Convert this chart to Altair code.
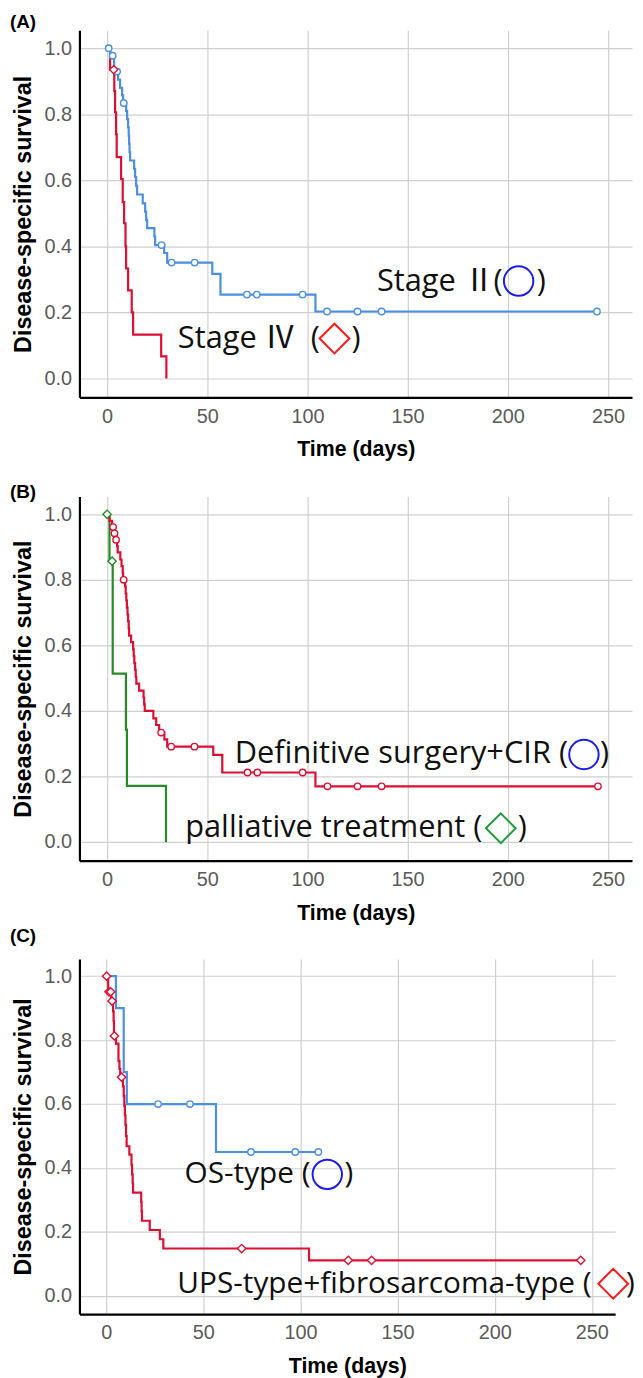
import altair as alt
import pandas as pd

# ---------------- data ----------------
# Panel A: Stage II (blue) / Stage IV (red)
A_blue_t = [0, 1.5, 3.5, 5.5, 6.5, 7.5, 8, 9.5, 10, 10.5, 10.8, 11, 11.2, 11.5, 13.5, 14, 14.5, 15,
            17.8, 19, 19.5, 20, 23.6, 24, 28.5, 30, 52.5, 56.6, 104, 244.5]
A_blue_s = [1.0, 0.977, 0.929, 0.905, 0.88, 0.857, 0.834, 0.81, 0.785, 0.76, 0.735, 0.71, 0.685, 0.66,
            0.635, 0.61, 0.583, 0.557, 0.53, 0.505, 0.48, 0.455, 0.43, 0.404, 0.38, 0.351, 0.317,
            0.254, 0.203, 0.203]
A_blue_ct = [0.8, 2.8, 5, 8.3, 27.2, 32.2, 43.7, 69.8, 74.7, 97.6, 109.8, 125, 137, 244.5]
A_blue_cs = [1.0, 0.977, 0.929, 0.834, 0.404, 0.351, 0.351, 0.254, 0.254, 0.254, 0.203, 0.203,
             0.203, 0.203]
A_red_t = [0, 1.5, 3.6, 4, 4.5, 4.8, 7, 7.8, 8.5, 9.2, 9.5, 10.5, 12.3, 13, 27, 29.6]
A_red_s = [1.0, 0.935, 0.87, 0.806, 0.74, 0.67, 0.604, 0.534, 0.47, 0.40, 0.333, 0.267, 0.2, 0.133,
           0.067, 0.0]
A_red_ct = [3.3]
A_red_cs = [0.935]

# Panel B: definitive surgery+CIR (red) / palliative treatment (green)
B_red_t = [0, 1.2, 2.5, 3.4, 4, 5, 5.3, 6.6, 7.2, 7.8, 8, 9, 9.3, 9.6, 9.9, 10.2, 10.5, 10.8, 11, 12,
           13, 13.3, 13.6, 14, 14.3, 14.6, 16, 18.2, 18.5, 18.8, 23.1, 24.5, 26, 28.6, 30, 53, 57.5,
           104, 245]
B_red_s = [1.0, 0.98, 0.961, 0.942, 0.922, 0.903, 0.884, 0.862, 0.842, 0.821, 0.8, 0.78, 0.758,
           0.737, 0.715, 0.694, 0.673, 0.652, 0.63, 0.61, 0.588, 0.567, 0.546, 0.525, 0.504, 0.483,
           0.462, 0.441, 0.42, 0.40, 0.377, 0.357, 0.334, 0.313, 0.291, 0.266, 0.212, 0.17, 0.17]
B_red_ct = [3, 3.7, 4.5, 8.3, 27, 32, 43.6, 70.1, 75, 97.6, 110, 125, 137, 245]
B_red_cs = [0.961, 0.942, 0.922, 0.8, 0.334, 0.291, 0.291, 0.212, 0.212, 0.212, 0.17, 0.17, 0.17, 0.17]
B_green_t = [0, 1.2, 2.8, 9.4, 9.9, 29.4]
B_green_s = [1.0, 0.857, 0.514, 0.343, 0.171, 0.0]
B_green_ct = [0, 2.5]
B_green_cs = [1.0, 0.857]

# Panel C: OS-type (blue) / UPS-type+fibrosarcoma-type (red)
C_blue_t = [0, 5, 9, 10.6, 56.5, 109.2]
C_blue_s = [1.0, 0.9, 0.7, 0.6, 0.45, 0.45]
C_blue_ct = [26.7, 43.1, 74.5, 97.3, 109.2]
C_blue_cs = [0.6, 0.6, 0.45, 0.45, 0.45]
C_red_t = [0, 1, 2.6, 3.5, 3.8, 4, 5, 6.3, 6.8, 7.2, 8.6, 9, 9.3, 9.6, 9.9, 10.2, 10.5, 11.9, 13,
           13.3, 13.6, 13.8, 18, 18.2, 18.4, 22.4, 27.6, 29.4, 104.4, 244.3]
C_red_s = [1.0, 0.951, 0.922, 0.89, 0.86, 0.813, 0.789, 0.735, 0.71, 0.684, 0.655, 0.625, 0.595,
           0.565, 0.535, 0.5, 0.468, 0.442, 0.41, 0.38, 0.352, 0.323, 0.294, 0.264, 0.235, 0.206,
           0.177, 0.148, 0.111, 0.111]
C_red_ct = [0.2, 1.4, 2.3, 3.0, 4.2, 7.9, 69.7, 124.6, 136.6, 244.3]
C_red_cs = [1.0, 0.951, 0.951, 0.922, 0.813, 0.684, 0.148, 0.111, 0.111, 0.111]

# annotation texts (label, x in days, y in survival)
A_texts = [("Stage Ⅱ", 134.7, 0.293), ("(", 192.9, 0.293), (")", 214.5, 0.293),
           ("Stage Ⅳ", 35.3, 0.118), ("(", 101.7, 0.118), (")", 122.0, 0.118)]
A_marks = [("circle", 205.4, 0.295), ("diamond", 113.5, 0.121)]
B_texts = [("Definitive surgery+CIR (", 63.7, 0.267), (")", 246.0, 0.267),
           ("palliative treatment (", 39.0, 0.042), (")", 205.0, 0.042)]
B_marks = [("circle", 238.0, 0.267), ("diamond", 196.5, 0.042)]
C_texts = [("OS-type (", 40.3, 0.38), (")", 122.7, 0.38),
           ("UPS-type+fibrosarcoma-type (", 36.6, 0.038), (")", 267.6, 0.038)]
C_marks = [("circle", 113.8, 0.38), ("diamond", 261.0, 0.038)]

x_ticks = [0, 50, 100, 150, 200, 250]
y_ticks = [0.0, 0.2, 0.4, 0.6, 0.8, 1.0]

BLUE = "#4a8fe0"
RED = "#dc0f32"
GREEN = "#238c23"
MARK_COLORS = {"circle": "#1b1bf0", "diamond_red": "#ff1a1a", "diamond_green": "#1f9a3a"}
ANNOT_FONT = "Open Sans, Noto Sans CJK JP, sans-serif"

XS = alt.Scale(domain=[-13.8, 262], nice=False, zero=False)
YS = alt.Scale(domain=[-0.057, 1.054], nice=False, zero=False)

x_axis = alt.Axis(values=x_ticks, format="d", title="Time (days)", grid=True,
                  gridColor="#cfcfcf", gridWidth=1.2, domainColor="black", domainWidth=2.2,
                  ticks=False, tickSize=0, labelFont="Liberation Sans", labelFontSize=20,
                  labelColor="#5a5a5a", labelPadding=9, titleFont="Liberation Sans",
                  titleFontSize=21.5, titleFontWeight="bold", titleColor="black", titlePadding=13)
y_axis = alt.Axis(values=y_ticks, format=".1f", title="Disease-specific survival", grid=True,
                  gridColor="#cfcfcf", gridWidth=1.2, domainColor="black", domainWidth=2.2,
                  ticks=False, tickSize=0, labelFont="Liberation Sans", labelFontSize=20,
                  labelColor="#5a5a5a", labelPadding=8, titleFont="Liberation Sans",
                  titleFontSize=23.5, titleFontWeight="bold", titleColor="black", titlePadding=9)


def X(field):
    return alt.X(field, type="quantitative", scale=XS, axis=x_axis)


def Y(field):
    return alt.Y(field, type="quantitative", scale=YS, axis=y_axis)


def curve(t, s, color):
    df = pd.DataFrame({"t": t, "s": s, "i": list(range(len(t)))})
    return alt.Chart(df).mark_line(interpolate="step-after", strokeWidth=2.2, color=color).encode(
        x=X("t"), y=Y("s"), order=alt.Order("i:Q"))


def censors(t, s, color, shape, size):
    df = pd.DataFrame({"t": t, "s": s})
    return alt.Chart(df).mark_point(shape=shape, size=size, filled=True, fill="white",
                                    stroke=color, strokeWidth=1.4, opacity=1).encode(
        x=X("t"), y=Y("s"))


def texts(items, size):
    df = pd.DataFrame(items, columns=["label", "x", "y"])
    return alt.Chart(df).mark_text(align="left", baseline="middle", font=ANNOT_FONT,
                                   fontSize=size, color="#111111").encode(
        x=X("x"), y=Y("y"), text="label:N")


def legend_mark(shape, x, y, color):
    df = pd.DataFrame({"x": [x], "y": [y]})
    size = 880 if shape == "circle" else 900
    return alt.Chart(df).mark_point(shape=shape, size=size, filled=False, stroke=color,
                                    strokeWidth=2, opacity=1).encode(x=X("x"), y=Y("y"))


def panel_label(txt, dy):
    df = pd.DataFrame({"label": [txt]})
    return alt.Chart(df).mark_text(align="left", baseline="middle", font="Liberation Sans",
                                   fontSize=19, fontWeight="bold", color="black").encode(
        x=alt.value(-70), y=alt.value(dy), text="label:N")


panel_a = alt.layer(
    curve(A_red_t, A_red_s, RED),
    curve(A_blue_t, A_blue_s, BLUE),
    censors(A_blue_ct, A_blue_cs, BLUE, "circle", 42),
    censors(A_red_ct, A_red_cs, RED, "diamond", 70),
    texts(A_texts, 31),
    legend_mark("circle", A_marks[0][1], A_marks[0][2], MARK_COLORS["circle"]),
    legend_mark("diamond", A_marks[1][1], A_marks[1][2], MARK_COLORS["diamond_red"]),
    panel_label("(A)", -8),
).properties(width=557, height=370)

panel_b = alt.layer(
    curve(B_green_t, B_green_s, GREEN),
    curve(B_red_t, B_red_s, RED),
    censors(B_red_ct, B_red_cs, RED, "circle", 42),
    censors(B_green_ct, B_green_cs, GREEN, "diamond", 70),
    texts(B_texts, 31),
    legend_mark("circle", B_marks[0][1], B_marks[0][2], MARK_COLORS["circle"]),
    legend_mark("diamond", B_marks[1][1], B_marks[1][2], MARK_COLORS["diamond_green"]),
    panel_label("(B)", -5),
).properties(width=557, height=367)

panel_c = alt.layer(
    curve(C_blue_t, C_blue_s, BLUE),
    curve(C_red_t, C_red_s, RED),
    censors(C_blue_ct, C_blue_cs, BLUE, "circle", 42),
    censors(C_red_ct, C_red_cs, RED, "diamond", 70),
    texts(C_texts, 30),
    legend_mark("circle", C_marks[0][1], C_marks[0][2], MARK_COLORS["circle"]),
    legend_mark("diamond", C_marks[1][1], C_marks[1][2], MARK_COLORS["diamond_red"]),
    panel_label("(C)", -23),
).properties(width=540, height=358)

chart = alt.vconcat(
    alt.vconcat(panel_a, panel_b, spacing=22),
    panel_c, spacing=3,
).configure(padding={"left": 2, "top": 0, "right": 0, "bottom": 0}
).configure_view(strokeWidth=0)

chart.save("out.html", embed_options={"renderer": "svg", "actions": False})
